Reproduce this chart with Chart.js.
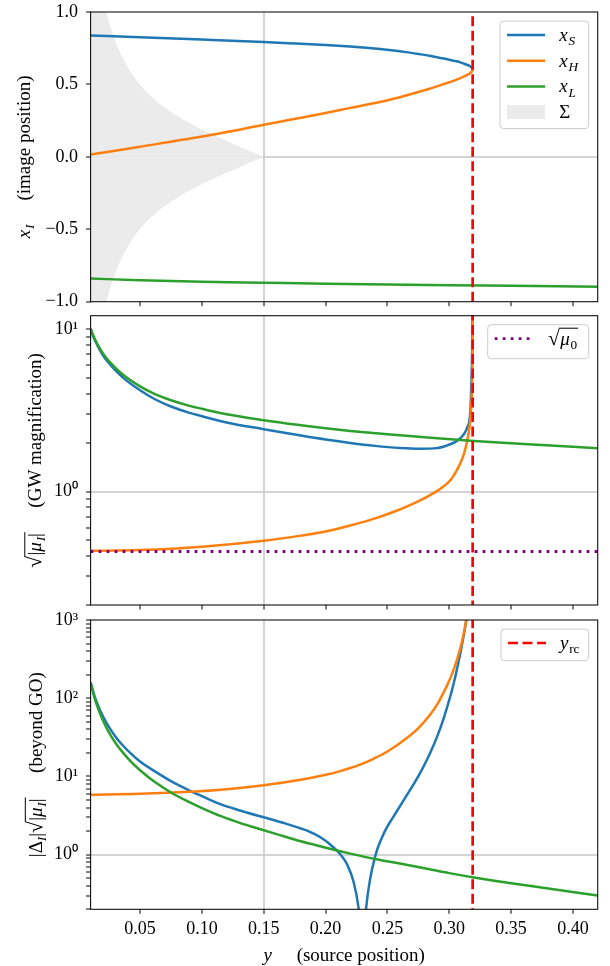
<!DOCTYPE html>
<html>
<head>
<meta charset="utf-8">
<script src="https://cdn.jsdelivr.net/npm/chart.js@4.4.1/dist/chart.umd.min.js"></script>
<style>
  html, body { margin: 0; padding: 0; background: #fff; }
  #wrap { position: relative; width: 610px; height: 966px; overflow: hidden; }
  canvas { position: absolute; left: 0; }
</style>
</head>
<body>
<div id="wrap">
  <canvas id="c1" width="610" height="320" style="top:0px"></canvas>
  <canvas id="c2" width="610" height="312" style="top:306px"></canvas>
  <canvas id="c3" width="610" height="360" style="top:606px"></canvas>
</div>
<script>
// colours (matplotlib defaults)
const BLUE = '#1f77b4', ORANGE = '#ff7f0e', GREEN = '#2ca02c', RED = '#ff0000', PURPLE = '#800080';
const REFGRAY = 'rgba(205,205,205,0.85)';
const SERIF = '"Liberation Serif", "Times New Roman", serif';
const LW = 2.5;

// shared x axis: y (source position)
const xTicks = [0.05, 0.10, 0.15, 0.20, 0.25, 0.30, 0.35, 0.40];
const yRC = 0.3189;      // y_rc
const sqrtMu0 = 0.427;   // sqrt(mu_0)

// panel 1: image positions x_I
const posTicks = [-1.0, -0.5, 0.0, 0.5, 1.0];
const sX = [0.01, 0.05, 0.10, 0.15, 0.17, 0.20, 0.22, 0.244, 0.255, 0.265, 0.275, 0.285, 0.293, 0.300, 0.305, 0.309, 0.312, 0.3145, 0.3165, 0.3178, 0.3186, 0.3189];
const sPos = [0.838, 0.826, 0.810, 0.793, 0.785, 0.772, 0.761, 0.744, 0.734, 0.723, 0.710, 0.696, 0.683, 0.671, 0.661, 0.652, 0.643, 0.635, 0.627, 0.619, 0.612, 0.603];
const hPos = [0.016, 0.070, 0.140, 0.221, 0.254, 0.303, 0.338, 0.379, 0.401, 0.424, 0.448, 0.473, 0.495, 0.515, 0.530, 0.544, 0.555, 0.566, 0.576, 0.585, 0.594, 0.603];
const lX = [0.01, 0.05, 0.10, 0.15, 0.20, 0.25, 0.30, 0.35, 0.42];
const lPos = [-0.840, -0.852, -0.862, -0.869, -0.876, -0.881, -0.886, -0.890, -0.896];
const sigX = [0.01, 0.015, 0.02, 0.025, 0.03, 0.035, 0.04, 0.045, 0.05, 0.055, 0.06, 0.07, 0.08, 0.09, 0.10, 0.11, 0.12, 0.13, 0.14, 0.145, 0.15];
const sigV = [1.70, 1.34, 1.10, 0.928, 0.80, 0.70, 0.62, 0.553, 0.497, 0.449, 0.408, 0.339, 0.282, 0.233, 0.189, 0.149, 0.110, 0.073, 0.036, 0.018, 0];

// panel 2: sqrt|mu_I|
const muSX = [0.01, 0.012, 0.015, 0.02, 0.025, 0.035, 0.05, 0.062, 0.075, 0.09, 0.10, 0.12, 0.15, 0.18, 0.20, 0.22, 0.24, 0.26, 0.276, 0.29, 0.298, 0.305, 0.309, 0.3125, 0.3143, 0.317, 0.3178, 0.3185, 0.3189];
const muS = [10.0, 9.05, 8.09, 6.91, 6.14, 5.12, 4.2, 3.70, 3.34, 3.05, 2.91, 2.66, 2.42, 2.21, 2.09, 1.99, 1.91, 1.855, 1.835, 1.85, 1.92, 2.02, 2.13, 2.3, 2.46, 3.1, 4.5, 8.0, 25];
const muHX = [0.01, 0.05, 0.10, 0.15, 0.18, 0.20, 0.22, 0.24, 0.26, 0.27, 0.28, 0.29, 0.295, 0.30, 0.303, 0.306, 0.309, 0.311, 0.313, 0.315, 0.3165, 0.3175, 0.318, 0.3185, 0.3188, 0.3189];
const muH = [0.431, 0.436, 0.457, 0.497, 0.535, 0.567, 0.618, 0.683, 0.775, 0.835, 0.91, 1.005, 1.07, 1.155, 1.235, 1.35, 1.5, 1.63, 1.83, 2.15, 2.55, 3.1, 3.6, 4.8, 8, 20];
const muLX = [0.01, 0.012, 0.015, 0.02, 0.025, 0.035, 0.05, 0.062, 0.075, 0.09, 0.10, 0.12, 0.15, 0.18, 0.20, 0.22, 0.25, 0.28, 0.32, 0.36, 0.42];
const muL = [10.1, 9.2, 8.21, 7.09, 6.33, 5.33, 4.44, 3.98, 3.65, 3.37, 3.23, 2.99, 2.75, 2.56, 2.45, 2.36, 2.25, 2.16, 2.05, 1.96, 1.85];

// panel 3: |Delta_I| sqrt|mu_I|
const dSX = [0.01, 0.013, 0.016, 0.02, 0.024, 0.03, 0.035, 0.042, 0.05, 0.062, 0.075, 0.09, 0.10, 0.116, 0.13, 0.15, 0.165, 0.18, 0.19, 0.197, 0.203, 0.209, 0.213, 0.217, 0.2226, 0.2266, 0.2285, 0.2297, 0.231, 0.2328, 0.2361, 0.2401, 0.2428, 0.2468, 0.25, 0.2522, 0.2577, 0.2644, 0.2711, 0.2779, 0.2846, 0.29, 0.2954, 0.3034, 0.3089, 0.3129, 0.315];
const dS = [160, 109, 81, 58.6, 45, 32.5, 26, 20, 15.5, 11.6, 8.7, 6.6, 5.6, 4.35, 3.7, 3.0, 2.57, 2.16, 1.87, 1.62, 1.38, 1.13, 0.96, 0.77, 0.45, 0.21, 0.09, 0.005, 0.09, 0.21, 0.5, 0.95, 1.3, 1.83, 2.3, 2.62, 3.61, 5.35, 7.9, 12.2, 20.1, 31.8, 55, 151, 377, 820, 1350];
const dHX = [0.01, 0.05, 0.09, 0.12, 0.15, 0.18, 0.20, 0.2118, 0.22, 0.23, 0.2387, 0.25, 0.2657, 0.275, 0.2846, 0.29, 0.2981, 0.302, 0.3062, 0.309, 0.3116, 0.314, 0.316];
const dH = [5.85, 6.0, 6.35, 6.85, 7.7, 9.05, 10.5, 11.7, 12.8, 14.6, 16.8, 20.8, 31, 41.5, 62, 82, 145, 200, 310, 440, 660, 1050, 1600];
const dLX = [0.01, 0.013, 0.016, 0.02, 0.024, 0.03, 0.035, 0.042, 0.05, 0.062, 0.077, 0.089, 0.10, 0.116, 0.13, 0.15, 0.165, 0.18, 0.197, 0.21, 0.22, 0.24, 0.26, 0.28, 0.30, 0.32, 0.35, 0.38, 0.42];
const dL = [157, 103, 74, 51.8, 38.6, 27, 21.2, 15.8, 12.0, 8.46, 5.96, 4.76, 3.94, 3.08, 2.57, 2.05, 1.74, 1.48, 1.26, 1.12, 1.03, 0.88, 0.77, 0.67, 0.58, 0.51, 0.43, 0.37, 0.30];

const pts = (xs, vs) => xs.map((x, i) => ({ x: x, y: vs[i] }));
const near = (a, b) => a !== undefined && Math.abs(a - b) < 1e-9;
const SUP = { '0': '⁰', '1': '¹', '2': '²', '3': '³' };

function logTicks(lo, hi) {
  const out = [];
  for (let e = Math.floor(Math.log10(lo)); e <= Math.ceil(Math.log10(hi)); e++) {
    for (let m = 1; m < 10; m++) {
      const v = +(m * Math.pow(10, e)).toPrecision(6);
      if (v >= lo - 1e-9 && v <= hi + 1e-9) out.push(v);
    }
  }
  return out;
}

function curve(label, xs, vs, color, order) {
  return { label: label, data: pts(xs, vs), borderColor: color, borderWidth: LW, pointRadius: 0,
           cubicInterpolationMode: 'monotone', fill: false, order: order };
}
function vline(lo, hi) {
  return { label: 'y_rc', data: [{ x: yRC, y: lo }, { x: yRC, y: hi }], borderColor: RED,
           borderWidth: 2.7, borderDash: [10, 4.5], pointRadius: 0, fill: false, order: 0 };
}

// math-ish text: parts with italic / subscript / sqrt
function rich(ctx, parts, x, y, size, dry) {
  for (const p of parts) {
    if (p.gap) { x += p.gap; continue; }
    if (p.sqrt) {
      ctx.font = (size * 1.12) + 'px ' + SERIF;
      const m = ctx.measureText('√');
      const top = y - m.actualBoundingBoxAscent;
      const x0 = x + m.width - 0.8;
      if (!dry) ctx.fillText('√', x, y);
      const end = rich(ctx, p.sqrt, x + m.width + 0.5, y, size, dry);
      if (!dry) ctx.fillRect(x0, top, end - x0 + 1, Math.max(1, size * 0.05));
      x = end + 1.5;
      continue;
    }
    const s = p.sub ? size * 0.7 : size;
    ctx.font = (p.it ? 'italic ' : '') + s + 'px ' + SERIF;
    if (!dry) ctx.fillText(p.t, x, y + (p.sub ? size * 0.22 : 0));
    x += ctx.measureText(p.t).width + (p.it && !p.sub ? size * 0.04 : 0);
  }
  return x;
}

function deco(cfg) {
  return {
    id: 'deco',
    afterDraw(chart) {
      const ctx = chart.ctx, a = chart.chartArea;
      ctx.save();
      ctx.fillStyle = '#000';
      ctx.textBaseline = 'alphabetic';
      ctx.textAlign = 'left';

      // legend
      const lg = cfg.legend;
      const bx = a.right - 9 - lg.w, by = a.top + 9;
      ctx.beginPath();
      ctx.roundRect(bx, by, lg.w, lg.h, 3.5);
      ctx.fillStyle = 'rgba(255,255,255,0.8)';
      ctx.fill();
      ctx.strokeStyle = '#cccccc';
      ctx.lineWidth = 1;
      ctx.stroke();
      lg.rows.forEach((r, i) => {
        const ds = chart.data.datasets[r.ds];
        const ry = by + 14 + i * 25.7;
        if (r.patch) {
          ctx.fillStyle = ds.backgroundColor;
          ctx.fillRect(bx + 7, ry - 7, 38, 14);
        } else {
          ctx.strokeStyle = ds.borderColor;
          ctx.lineWidth = ds.borderWidth;
          ctx.setLineDash(ds.borderDash || []);
          ctx.beginPath();
          ctx.moveTo(bx + 7, ry);
          ctx.lineTo(bx + 45, ry);
          ctx.stroke();
          ctx.setLineDash([]);
        }
        ctx.fillStyle = '#000';
        rich(ctx, r.parts, bx + lg.tx, ry + 6, 19);
      });

      // y title (rotated)
      const cy = (a.top + a.bottom) / 2;
      ctx.save();
      ctx.translate(cfg.ytx, cy);
      ctx.rotate(-Math.PI / 2);
      const w = rich(ctx, cfg.ytitle, 0, 0, 19, true);
      rich(ctx, cfg.ytitle, -w / 2, 6.3, 19);
      ctx.restore();

      // x title
      if (cfg.xtitle) {
        const xw = rich(ctx, cfg.xtitle, 0, 0, 19, true);
        rich(ctx, cfg.xtitle, (a.left + a.right) / 2 - xw / 2, cfg.xty, 19);
      }

      // frame
      ctx.strokeStyle = '#111';
      ctx.lineWidth = 1.1;
      ctx.strokeRect(a.left, a.top, a.right - a.left, a.bottom - a.top);
      ctx.restore();
    }
  };
}

function xScale(cfg) {
  return {
    type: 'linear', min: 0.01, max: 0.42,
    afterBuildTicks: s => { s.ticks = xTicks.map(v => ({ value: v })); },
    afterFit: s => { s.height = cfg.xh; s.paddingLeft = 0; s.paddingRight = 0; },
    border: { display: false },
    grid: {
      color: c => near(c.tick && c.tick.value, 0.15) ? REFGRAY : 'rgba(0,0,0,0)',
      lineWidth: 2, drawTicks: true, tickLength: 4.5, tickColor: '#000', tickWidth: 1
    },
    ticks: {
      display: cfg.xLabels, autoSkip: false, maxRotation: 0, padding: 5, color: '#000',
      font: { family: SERIF, size: 18 },
      callback: v => v.toFixed(2)
    }
  };
}

function yScale(opts, ticks, refVal, fmt) {
  return Object.assign({
    afterBuildTicks: s => { s.ticks = ticks.map(v => ({ value: v })); },
    afterFit: s => { s.width = 90.6; s.paddingTop = 0; s.paddingBottom = 0; },
    border: { display: false },
    grid: {
      color: c => near(c.tick && c.tick.value, refVal) ? REFGRAY : 'rgba(0,0,0,0)',
      lineWidth: 2, drawTicks: true, tickLength: 4.5, tickColor: '#000', tickWidth: 1
    },
    ticks: { autoSkip: false, padding: 8, color: '#000', font: { family: SERIF, size: 18 }, callback: fmt }
  }, opts);
}

const logLabel = v => {
  const l = Math.log10(v);
  if (Math.abs(l - Math.round(l)) > 1e-6) return '';
  return '10' + String(Math.round(l)).split('').map(d => SUP[d]).join('');
};

function panel(id, cfg) {
  return new Chart(document.getElementById(id), {
    type: 'line',
    data: { datasets: cfg.datasets },
    options: {
      responsive: false, animation: false, events: [],
      layout: { padding: { left: 0, right: 12.3, top: cfg.top, bottom: 0 } },
      elements: { point: { radius: 0 }, line: { capBezierPoints: false } },
      plugins: { legend: { display: false }, tooltip: { enabled: false } },
      scales: { x: xScale(cfg), y: cfg.y }
    },
    plugins: [deco(cfg)]
  });
}

// panel 1
panel('c1', {
  top: 12, xh: 18.3, xLabels: false, ytx: 24,
  datasets: [
    vline(-1.2, 1.2),
    curve('x_L', lX, lPos, GREEN, 2),
    curve('x_H', sX, hPos, ORANGE, 3),
    curve('x_S', sX, sPos, BLUE, 4),
    { label: 'Σ', data: pts(sigX, sigV), borderWidth: 0, pointRadius: 0, fill: 'origin',
      backgroundColor: '#ebebeb', cubicInterpolationMode: 'monotone', order: 5 },
    { label: 'Σ', data: pts(sigX, sigV.map(v => -v)), borderWidth: 0, pointRadius: 0, fill: 'origin',
      backgroundColor: '#ebebeb', cubicInterpolationMode: 'monotone', order: 5 }
  ],
  y: yScale({ type: 'linear', min: -1, max: 1 }, posTicks, 0,
            v => (v < 0 ? '−' : '') + Math.abs(v).toFixed(1)),
  legend: { w: 88.7, h: 107.6, tx: 59.3, rows: [
    { ds: 3, parts: [{ t: 'x', it: 1 }, { t: 'S', it: 1, sub: 1 }] },
    { ds: 2, parts: [{ t: 'x', it: 1 }, { t: 'H', it: 1, sub: 1 }] },
    { ds: 1, parts: [{ t: 'x', it: 1 }, { t: 'L', it: 1, sub: 1 }] },
    { ds: 4, patch: true, parts: [{ t: 'Σ' }] }
  ] },
  ytitle: [{ t: 'x', it: 1 }, { t: 'I', it: 1, sub: 1 }, { gap: 24 }, { t: '(image position)' }]
});

// panel 2
panel('c2', {
  top: 9.7, xh: 13, xLabels: false, ytx: 35,
  datasets: [
    vline(0.1, 30),
    { label: 'sqrt_mu0', data: pts([0.01, 0.42], [sqrtMu0, sqrtMu0]), borderColor: PURPLE, borderWidth: 2.8,
      borderDash: [2.8, 5.2], pointRadius: 0, fill: false, order: 1 },
    curve('x_L', muLX, muL, GREEN, 2),
    curve('x_H', muHX, muH, ORANGE, 3),
    curve('x_S', muSX, muS, BLUE, 4)
  ],
  y: yScale({ type: 'logarithmic', min: 0.2, max: 12.1 }, logTicks(0.2, 12.1), 1, logLabel),
  legend: { w: 101, h: 34, tx: 60.3, rows: [
    { ds: 1, parts: [{ sqrt: [{ t: 'μ', it: 1 }, { t: '0', sub: 1 }] }] }
  ] },
  ytitle: [{ sqrt: [{ t: '|' }, { t: 'μ', it: 1 }, { t: 'I', it: 1, sub: 1 }, { t: '|' }] }, { gap: 24 }, { t: '(GW magnification)' }]
});

// panel 3
panel('c3', {
  top: 14, xh: 56.7, xLabels: true, ytx: 35.5, xty: 961 - 606,
  datasets: [
    vline(0.1, 2000),
    curve('x_L', dLX, dL, GREEN, 2),
    curve('x_H', dHX, dH, ORANGE, 3),
    curve('x_S', dSX, dS, BLUE, 4)
  ],
  y: yScale({ type: 'logarithmic', min: 0.2, max: 1000 }, logTicks(0.2, 1000), 1, logLabel),
  legend: { w: 87.7, h: 31.7, tx: 59, rows: [
    { ds: 0, parts: [{ t: 'y', it: 1 }, { t: 'rc', sub: 1 }] }
  ] },
  ytitle: [{ t: '|' }, { t: 'Δ' }, { t: 'I', it: 1, sub: 1 }, { t: '|' },
           { sqrt: [{ t: '|' }, { t: 'μ', it: 1 }, { t: 'I', it: 1, sub: 1 }, { t: '|' }] },
           { gap: 24 }, { t: '(beyond GO)' }],
  xtitle: [{ t: 'y', it: 1 }, { gap: 24 }, { t: '(source position)' }]
});
</script>
</body>
</html>
